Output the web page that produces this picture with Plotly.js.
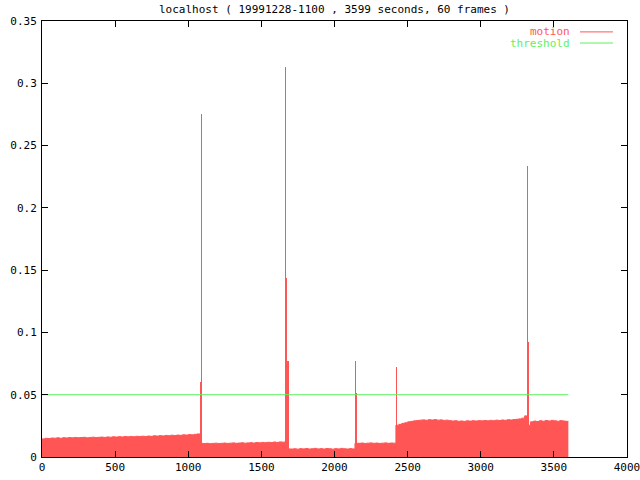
<!DOCTYPE html>
<html>
<head>
<meta charset="utf-8">
<script src="https://cdn.plot.ly/plotly-3.0.1.min.js"></script>
<style>html,body{margin:0;padding:0;background:#fff;}#chart{width:640px;height:480px;}</style>
</head>
<body>
<div id="chart"></div>
<script>
// Sampling step of the motion series (seconds) and total duration
const STEP = 20;
const DURATION = 3599;

// Motion level, one value per 20 s bin starting at t = 0
const motion = [
  // 0 - 1060
  0.0145, 0.0150, 0.0148, 0.0152, 0.0151, 0.0154, 0.0150, 0.0155, 0.0153, 0.0156,
  0.0154, 0.0157, 0.0155, 0.0156, 0.0158, 0.0154, 0.0157, 0.0159, 0.0156, 0.0158,
  0.0160, 0.0157, 0.0161, 0.0159, 0.0162, 0.0160, 0.0163, 0.0161, 0.0164, 0.0162,
  0.0165, 0.0163, 0.0166, 0.0164, 0.0167, 0.0165, 0.0168, 0.0166, 0.0170, 0.0168,
  0.0171, 0.0169, 0.0173, 0.0171, 0.0175, 0.0172, 0.0176, 0.0174, 0.0178, 0.0176,
  0.0180, 0.0178, 0.0182, 0.0185,
  // 1080
  0.0110,
  // 1100 - 1660
  0.0108, 0.0110, 0.0107, 0.0109, 0.0111, 0.0108, 0.0110, 0.0112, 0.0109, 0.0111,
  0.0113, 0.0110, 0.0112, 0.0114, 0.0111, 0.0113, 0.0115, 0.0112, 0.0116, 0.0114,
  0.0117, 0.0115, 0.0118, 0.0116, 0.0120, 0.0117, 0.0121, 0.0119, 0.0122,
  // 1680
  0.0065,
  // 1700 - 2120
  0.0064, 0.0066, 0.0063, 0.0067, 0.0065, 0.0068, 0.0064, 0.0066, 0.0069, 0.0065,
  0.0067, 0.0064, 0.0068, 0.0066, 0.0063, 0.0067, 0.0065, 0.0069, 0.0066, 0.0064,
  0.0067, 0.0065,
  // 2140
  0.0110,
  // 2160 - 2400
  0.0110, 0.0112, 0.0109, 0.0111, 0.0113, 0.0110, 0.0112, 0.0109, 0.0111, 0.0113,
  0.0110, 0.0112, 0.0111,
  // 2420
  0.0255,
  // 2440 - 3280
  0.0262, 0.0270, 0.0275, 0.0282, 0.0286, 0.0290, 0.0293, 0.0296, 0.0298, 0.0295,
  0.0299, 0.0297, 0.0300, 0.0296, 0.0298, 0.0294, 0.0296, 0.0292, 0.0289, 0.0291,
  0.0287, 0.0289, 0.0286, 0.0290, 0.0288, 0.0291, 0.0289, 0.0292, 0.0290, 0.0293,
  0.0291, 0.0294, 0.0292, 0.0296, 0.0293, 0.0297, 0.0295, 0.0299, 0.0297, 0.0301,
  0.0303, 0.0306, 0.0312,
  // 3300, 3320
  0.0330, 0.0255,
  // 3340 - 3580
  0.0282, 0.0288, 0.0285, 0.0291, 0.0287, 0.0293, 0.0289, 0.0294, 0.0290, 0.0287,
  0.0292, 0.0289, 0.0286
];

// Short motion spikes (seconds, value)
const spikeTimes  = [1082, 1089, 1665, 1670, 1676, 1682, 2142, 2149, 2424, 3318, 3325];
const spikeValues = [0.060, 0.275, 0.313, 0.144, 0.060, 0.077, 0.077, 0.051, 0.072, 0.234, 0.092];

// Threshold line
const thresholdTimes  = [0, 3599];
const thresholdValues = [0.05, 0.05];

// Axis ticks
const xTicks = [0, 500, 1000, 1500, 2000, 2500, 3000, 3500, 4000];
const yTicks = [0, 0.05, 0.1, 0.15, 0.2, 0.25, 0.3, 0.35];

const titleText = 'localhost ( 19991228-1100 , 3599 seconds, 60 frames )';
const legendLabels = ['motion', 'threshold'];

const RED = '#ff5555';
const GREEN = '#5ef05e';
const FONT = 'DejaVu Sans Mono, monospace';

const motionTimes = motion.map((_, i) => i * STEP).concat([DURATION]);
const motionVals = motion.concat([motion[motion.length - 1]]);

const traces = [
  {
    type: 'bar', x: spikeTimes, y: spikeValues, width: 7,
    marker: {color: RED, line: {width: 0}}, showlegend: false, hoverinfo: 'skip'
  },
  {
    type: 'scatter', mode: 'lines', x: motionTimes, y: motionVals,
    line: {color: RED, width: 1, shape: 'hv'}, fill: 'tozeroy', fillcolor: RED,
    showlegend: false, hoverinfo: 'skip'
  },
  {
    type: 'scatter', mode: 'lines', x: thresholdTimes, y: thresholdValues,
    line: {color: GREEN, width: 1}, showlegend: false, hoverinfo: 'skip'
  }
];

const axisCommon = {
  showgrid: false, zeroline: false, showline: true, linecolor: '#000', linewidth: 1,
  mirror: 'ticks', ticks: 'inside', ticklen: 6, tickcolor: '#000', tickwidth: 1,
  tickfont: {family: FONT, size: 11, color: '#000'}, fixedrange: true,
  ticklabeloverflow: 'allow'
};

const layout = {
  width: 640, height: 480,
  paper_bgcolor: '#fff', plot_bgcolor: '#fff',
  margin: {l: 42, r: 13, t: 21, b: 23},
  font: {family: FONT, size: 11, color: '#000'},
  title: {text: titleText, font: {family: FONT, size: 11, color: '#000'},
          x: 0.5, xref: 'paper', xanchor: 'center', y: 1, yref: 'container', yanchor: 'top', pad: {t: 5}},
  barmode: 'overlay', bargap: 0,
  showlegend: false,
  xaxis: Object.assign({}, axisCommon, {range: [0, 4000], tickvals: xTicks, ticktext: xTicks.map(String)}),
  yaxis: Object.assign({}, axisCommon, {range: [0, 0.35], tickvals: yTicks, ticktext: yTicks.map(String), ticklabelstandoff: 2}),
  annotations: [
    {xref: 'paper', yref: 'paper', x: 0.906, y: 0.975, xanchor: 'right', yanchor: 'middle',
     text: legendLabels[0], showarrow: false, font: {family: FONT, size: 11, color: RED}},
    {xref: 'paper', yref: 'paper', x: 0.906, y: 0.9495, xanchor: 'right', yanchor: 'middle',
     text: legendLabels[1], showarrow: false, font: {family: FONT, size: 11, color: GREEN}}
  ],
  shapes: [
    {type: 'line', xref: 'paper', yref: 'paper', x0: 0.9197, x1: 0.976, y0: 0.975, y1: 0.975,
     line: {color: RED, width: 1}},
    {type: 'line', xref: 'paper', yref: 'paper', x0: 0.9197, x1: 0.976, y0: 0.9495, y1: 0.9495,
     line: {color: GREEN, width: 1}}
  ]
};

Plotly.newPlot('chart', traces, layout, {staticPlot: true, displayModeBar: false});
</script>
</body>
</html>
